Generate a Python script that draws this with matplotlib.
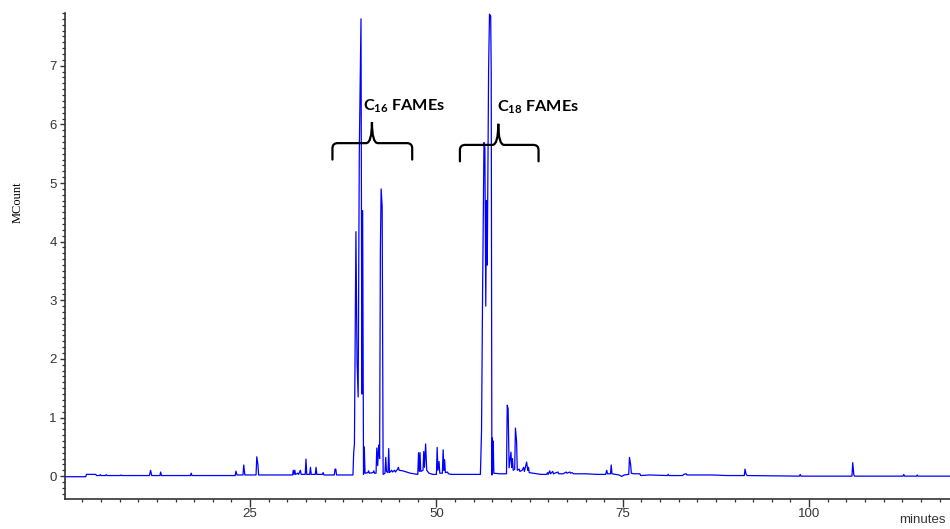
import matplotlib
matplotlib.use('Agg')
import matplotlib.pyplot as plt
from matplotlib.path import Path
from matplotlib.patches import PathPatch
from matplotlib.ticker import MultipleLocator

plt.rcParams['font.family'] = ['Liberation Sans', 'DejaVu Sans']
plt.rcParams['mathtext.fontset'] = 'custom'
plt.rcParams['mathtext.rm'] = 'Lato:bold'
plt.rcParams['mathtext.it'] = 'Lato:bold'
plt.rcParams['mathtext.bf'] = 'Lato:bold'

# chromatogram trace (minutes, MCount)
trace_min = [
    0.2, 2.95, 3.05, 4.3, 4.4, 4.8, 4.9, 5.0, 5.6, 5.7, 5.8, 7.6, 7.7, 7.8,
    11.5, 11.65, 11.8, 12.9, 13.0, 13.1, 17.0, 17.1, 17.2, 23.0, 23.1, 23.25,
    24.05, 24.15, 24.3, 25.8, 25.9, 26.05, 26.15, 30.7, 30.8, 30.9, 31.0, 31.1,
    31.4, 31.5, 31.75, 31.85, 32.4, 32.5, 32.6, 33.0, 33.1, 33.2, 33.75, 33.85,
    33.95, 34.7, 34.8, 34.9, 36.3, 36.4, 36.5, 36.6, 38.8,
    # C16 group
    38.9, 39.0, 39.2, 39.35, 39.5, 39.65, 39.88, 40.0, 40.1, 40.22, 40.32,
    40.42, 40.8, 40.9, 41.0, 41.5, 41.6, 41.7, 41.9, 42.0, 42.12, 42.25, 42.38,
    42.48, 42.58, 42.72, 42.85, 43.1, 43.2, 43.3, 43.5, 43.6, 43.7, 44.0, 44.1,
    44.4, 44.5, 44.8, 44.9, 45.0, 45.5, 46.0, 46.5, 47.0, 47.5, 47.6, 47.7,
    47.8, 47.9, 48.2, 48.3, 48.4, 48.55, 48.7, 49.0, 49.5, 50.0, 50.1, 50.2,
    50.35, 50.45, 50.8, 50.9, 51.0, 51.1, 51.2, 51.5, 51.6, 52.0, 55.9,
    # C18 group
    56.05, 56.2, 56.38, 56.5, 56.62, 56.72, 56.82, 57.0, 57.12, 57.28, 57.35,
    57.44, 57.5, 57.56, 57.62, 57.7, 58.5, 59.4, 59.5, 59.62, 59.75, 60.0,
    60.1, 60.2, 60.3, 60.5, 60.6, 60.75, 60.85, 61.1, 61.2, 61.5, 61.7, 61.8,
    62.1, 62.25, 62.35, 62.45, 63.0, 64.0, 64.8, 64.9, 65.0, 65.2, 65.3, 65.6,
    65.7, 66.3, 66.4, 67.0, 67.4, 67.5, 67.9, 68.0, 68.2, 68.4, 70.0, 71.5,
    72.7, 72.85, 72.95, 73.35, 73.45, 73.55, 74.5, 74.85, 75.2, 75.8, 75.9,
    76.05, 76.15, 76.5, 77.3, 77.4, 78.6, 81.0, 81.1, 81.2, 83.0, 83.2, 83.5,
    83.6, 85.0, 87.0, 89.0, 91.3, 91.4, 91.55, 91.7, 98.7, 98.8, 98.9, 105.75,
    105.85, 106.0, 106.1, 112.6, 112.7, 112.8, 114.4, 114.5, 114.6, 118.9,
]
trace_mcount = [
    -0.01, -0.01, 0.03, 0.03, 0.01, 0.01, 0.025, 0.01, 0.01, 0.025, 0.01, 0.01, 0.02, 0.01,
    0.01, 0.1, 0.01, 0.01, 0.07, 0.01, 0.01, 0.05, 0.01, 0.01, 0.085, 0.02,
    0.02, 0.19, 0.02, 0.02, 0.33, 0.2, 0.02, 0.02, 0.1, 0.03, 0.1, 0.03,
    0.05, 0.03, 0.1, 0.03, 0.03, 0.29, 0.03, 0.03, 0.15, 0.03, 0.03, 0.15,
    0.03, 0.03, 0.06, 0.02, 0.02, 0.12, 0.12, 0.02, 0.02,
    # C16 group
    0.4, 0.55, 4.17, 1.95, 1.35, 5.5, 7.8, 1.4, 4.53, 0.03, 0.5,
    0.05, 0.06, 0.09, 0.05, 0.06, 0.09, 0.05, 0.05, 0.48, 0.18, 0.53, 0.3,
    3.85, 4.9, 4.6, 0.03, 0.05, 0.32, 0.08, 0.06, 0.47, 0.06, 0.1, 0.07,
    0.1, 0.07, 0.12, 0.15, 0.1, 0.09, 0.07, 0.05, 0.04, 0.03, 0.4, 0.08,
    0.4, 0.08, 0.1, 0.42, 0.15, 0.55, 0.1, 0.05, 0.03, 0.03, 0.49, 0.1,
    0.25, 0.05, 0.05, 0.45, 0.1, 0.28, 0.06, 0.07, 0.04, 0.03, 0.03,
    # C18 group
    0.76, 3.25, 5.69, 5.6, 2.9, 4.7, 3.6, 6.94, 7.88, 7.85, 6.9,
    0.02, 0.65, 0.1, 0.6, 0.05, 0.04, 0.04, 1.21, 1.15, 0.14, 0.41,
    0.15, 0.3, 0.1, 0.12, 0.82, 0.6, 0.1, 0.12, 0.08, 0.1, 0.15, 0.08,
    0.24, 0.1, 0.15, 0.06, 0.05, 0.03, 0.03, 0.06, 0.03, 0.09, 0.04, 0.08,
    0.04, 0.07, 0.04, 0.04, 0.07, 0.05, 0.07, 0.05, 0.06, 0.04, 0.04, 0.03,
    0.03, 0.1, 0.04, 0.04, 0.19, 0.04, 0.02, -0.005, 0.02, 0.03, 0.32,
    0.2, 0.05, 0.04, 0.04, 0.01, 0.02, 0.01, 0.03, 0.01, 0.01, 0.03, 0.04,
    0.02, 0.02, 0.02, 0.01, 0.01, 0.12, 0.03, 0.01, 0.0, 0.03, 0.0, 0.0,
    0.23, 0.02, 0.0, 0.0, 0.03, 0.0, 0.0, 0.02, 0.0, 0.0,
]

# peak group labels and the braces under them (minutes / MCount)
group_labels = [r'C$_{16}$ FAMEs', r'C$_{18}$ FAMEs']
label_x = [40.1, 58.1]
label_y = [6.24, 6.21]
brace_left = [36.05, 53.15]
brace_right = [46.75, 63.7]
brace_tip = [41.35, 58.3]
brace_level = [5.68, 5.65]


def draw_brace(ax, x0, x1, xm, yh):
    yb = yh - 0.28
    yt = yh + 0.36
    rx, ry, rt = 0.7, 0.09, 0.8
    verts = [(x0, yb), (x0, yh - ry), (x0, yh), (x0 + rx, yh),
             (xm - rt, yh), (xm, yh), (xm, yt), (xm, yh), (xm + rt, yh),
             (x1 - rx, yh), (x1, yh), (x1, yh - ry), (x1, yb)]
    codes = [Path.MOVETO, Path.LINETO, Path.CURVE3, Path.CURVE3,
             Path.LINETO, Path.CURVE3, Path.CURVE3, Path.CURVE3, Path.CURVE3,
             Path.LINETO, Path.CURVE3, Path.CURVE3, Path.LINETO]
    ax.add_patch(PathPatch(Path(verts, codes), fill=False, lw=1.6,
                           edgecolor='black', capstyle='round', zorder=3))


fig = plt.figure(figsize=(9.5, 5.29), dpi=100)
ax = fig.add_axes([65 / 950, 1 - 499 / 529, 885 / 950, 486 / 529])

ax.plot(trace_min, trace_mcount, color='#0000ff', lw=0.9, zorder=2)

for i in range(len(group_labels)):
    draw_brace(ax, brace_left[i], brace_right[i], brace_tip[i], brace_level[i])
    ax.text(label_x[i], label_y[i], group_labels[i], fontsize=11.7,
            family='Lato', fontweight='bold', ha='left', va='baseline')

ax.set_xlim(0.17, 118.9)
ax.set_ylim(-0.39, 7.9)
ax.xaxis.set_major_locator(MultipleLocator(25))
ax.xaxis.set_minor_locator(MultipleLocator(2.5))
ax.yaxis.set_major_locator(MultipleLocator(1))
ax.yaxis.set_minor_locator(MultipleLocator(0.1))

for s in ['top', 'right']:
    ax.spines[s].set_visible(False)
for s in ['left', 'bottom']:
    ax.spines[s].set_linewidth(1.2)
    ax.spines[s].set_color('#333333')

ax.tick_params(axis='both', which='both', direction='out', color='#333333',
               labelcolor='#333333', labelsize=9.5)
ax.tick_params(axis='x', which='major', length=5.5, width=1.0, pad=1)
ax.tick_params(axis='x', which='minor', length=2.2, width=0.9)
ax.tick_params(axis='y', which='major', length=3.5, width=1.0, pad=2.5)
ax.tick_params(axis='y', which='minor', length=2.2, width=0.9)

fig.text(18 / 950, 1 - 202 / 529, 'MCount', rotation=90, ha='center',
         va='center', fontsize=9, family='Liberation Serif')
# x axis title sits in the bottom right corner, kept inside the figure
fig.text(946 / 950, 1 - 523 / 529, 'minutes', ha='right', va='baseline',
         fontsize=9.5, color='#333333')

fig.savefig('out.png', dpi=100)
